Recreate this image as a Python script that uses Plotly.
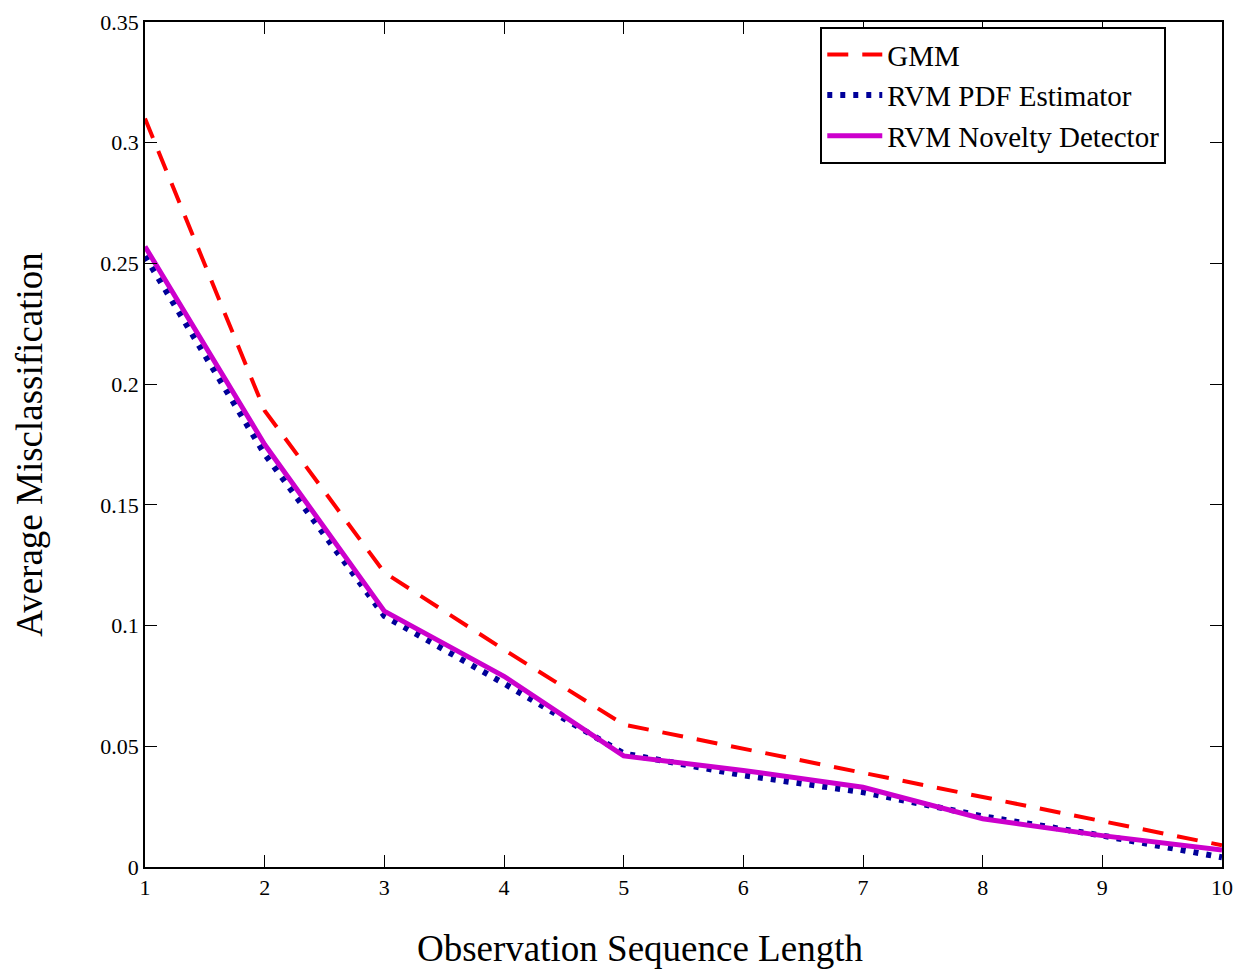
import plotly.graph_objects as go

x_vals = [1, 2, 3, 4, 5, 6, 7, 8, 9, 10]
gmm = [0.310, 0.189, 0.122, 0.090, 0.059, 0.049, 0.039, 0.029, 0.019, 0.009]
rvm_pdf = [0.253, 0.171, 0.104, 0.076, 0.047, 0.038, 0.031, 0.021, 0.013, 0.004]
rvm_nov = [0.257, 0.175, 0.106, 0.079, 0.046, 0.040, 0.033, 0.020, 0.013, 0.007]

y_ticks = [0, 0.05, 0.1, 0.15, 0.2, 0.25, 0.3, 0.35]
y_labels = ["0", "0.05", "0.1", "0.15", "0.2", "0.25", "0.3", "0.35"]
x_ticks = [1, 2, 3, 4, 5, 6, 7, 8, 9, 10]

font = "Liberation Serif, Times New Roman, serif"

fig = go.Figure()
fig.add_trace(go.Scatter(x=x_vals, y=gmm, mode="lines", name="GMM",
                         line=dict(color="#ff0000", width=4, dash="21px,14px")))
fig.add_trace(go.Scatter(x=x_vals, y=rvm_pdf, mode="lines", name="RVM PDF Estimator",
                         line=dict(color="#000099", width=6, dash="5px,8px")))
fig.add_trace(go.Scatter(x=x_vals, y=rvm_nov, mode="lines", name="RVM Novelty Detector",
                         line=dict(color="#cc00cc", width=5)))

axis_common = dict(showline=True, linecolor="black", linewidth=1.5, mirror="ticks",
                   ticks="inside", ticklen=12, tickcolor="black", showgrid=False,
                   zeroline=False, automargin=False, ticklabeloverflow="allow",
                   tickfont=dict(family=font, size=22, color="black"))

fig.update_layout(
    width=1233, height=966,
    margin=dict(l=137, r=19, t=14, b=107),
    paper_bgcolor="white", plot_bgcolor="white",
    font=dict(family=font, color="black"),
    showlegend=True,
    legend=dict(x=0.627, y=0.994, xanchor="left", yanchor="top",
                bordercolor="black", borderwidth=2, bgcolor="white",
                font=dict(family=font, size=29, color="black"),
                itemwidth=55, tracegroupgap=0),
    xaxis=dict(range=[1, 10], tickvals=x_ticks, **axis_common),
    yaxis=dict(range=[0, 0.35], tickvals=y_ticks, ticktext=y_labels,
               title=dict(text="Average Misclassification", font=dict(family=font, size=37), standoff=46),
               **axis_common),
    annotations=[dict(text="Observation Sequence Length", xref="paper", yref="paper",
                      x=0.46, y=-0.096, xanchor="center", yanchor="middle", showarrow=False,
                      font=dict(family=font, size=37, color="black"))],
)

fig.write_html("out.html")
